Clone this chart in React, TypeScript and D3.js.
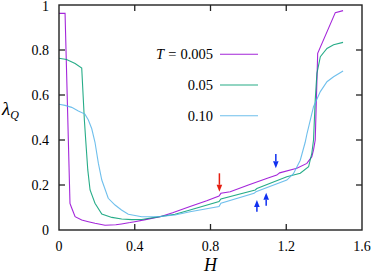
import { line, scaleLinear } from "d3";

const width = 374;
const height = 277;
const margin = { top: 5, right: 12, bottom: 47, left: 59 };
const innerWidth = width - margin.left - margin.right;
const innerHeight = height - margin.top - margin.bottom;

const xTicks = [0, 0.4, 0.8, 1.2, 1.6];
const yTicks = [0, 0.2, 0.4, 0.6, 0.8, 1];
const xTickLabels = ["0", "0.4", "0.8", "1.2", "1.6"];
const yTickLabels = ["0", "0.2", "0.4", "0.6", "0.8", "1"];

const legendLabels = ["0.005", "0.05", "0.10"];
const colors = ["#9400d3", "#009e73", "#56b4e9"];

// [H, lambda_Q]
const seriesT0005: [number, number][] = [
  [0, 0.963], [0.032, 0.963], [0.058, 0.118], [0.066, 0.1], [0.085, 0.059],
  [0.12, 0.044], [0.155, 0.037], [0.19, 0.03], [0.243, 0.021], [0.3, 0.023],
  [0.33, 0.027], [0.375, 0.033], [0.4, 0.037], [0.45, 0.045], [0.534, 0.059],
  [0.6, 0.077], [0.692, 0.104], [0.78, 0.13], [0.845, 0.151], [0.855, 0.163],
  [0.904, 0.17], [1.0, 0.2], [1.1, 0.23], [1.15, 0.244], [1.165, 0.254],
  [1.256, 0.274], [1.309, 0.296], [1.335, 0.326], [1.344, 0.356], [1.353, 0.4],
  [1.366, 0.785], [1.459, 0.966], [1.5, 0.975],
];

const seriesT005: [number, number][] = [
  [0, 0.763], [0.04, 0.758], [0.085, 0.74], [0.12, 0.72], [0.134, 0.489],
  [0.141, 0.4], [0.152, 0.267], [0.164, 0.178], [0.19, 0.119], [0.226, 0.071],
  [0.279, 0.056], [0.331, 0.049], [0.384, 0.046], [0.437, 0.047], [0.507, 0.056],
  [0.613, 0.07], [0.692, 0.089], [0.845, 0.126], [0.855, 0.138], [1.036, 0.178],
  [1.045, 0.184], [1.203, 0.237], [1.274, 0.252], [1.318, 0.281], [1.335, 0.341],
  [1.344, 0.4], [1.353, 0.578], [1.362, 0.696], [1.38, 0.77], [1.415, 0.807],
  [1.45, 0.823], [1.5, 0.834],
];

const seriesT010: [number, number][] = [
  [0, 0.559], [0.032, 0.554], [0.067, 0.545], [0.102, 0.529], [0.137, 0.515],
  [0.155, 0.489], [0.173, 0.45], [0.19, 0.39], [0.208, 0.296], [0.226, 0.222],
  [0.26, 0.141], [0.296, 0.111], [0.33, 0.089], [0.366, 0.07], [0.437, 0.059],
  [0.507, 0.059], [0.534, 0.06], [0.613, 0.067], [0.692, 0.081], [0.845, 0.104],
  [0.855, 0.119], [1.03, 0.163], [1.04, 0.17], [1.203, 0.222], [1.238, 0.25],
  [1.274, 0.31], [1.3, 0.39], [1.31, 0.43], [1.344, 0.548], [1.38, 0.615],
  [1.415, 0.659], [1.45, 0.681], [1.5, 0.707],
];

const series = [seriesT0005, seriesT005, seriesT010];

// arrows: H, lambda of tail, lambda of tip
const arrowH = [0.847, 1.145, 1.045, 1.094];
const arrowFrom = [0.252, 0.338, 0.081, 0.108];
const arrowTo = [0.17, 0.274, 0.133, 0.166];
const arrowColors = ["#e51e10", "#1030f0", "#1030f0", "#1030f0"];

const font = "'Liberation Serif', 'Times New Roman', serif";

export default function App() {
  const x = scaleLinear().domain([0, 1.6]).range([0, innerWidth]);
  const y = scaleLinear().domain([0, 1]).range([innerHeight, 0]);
  const path = line<[number, number]>()
    .x((d) => x(d[0]))
    .y((d) => y(d[1]));
  const tickLen = 6;
  const legendX1 = 220 - margin.left;
  const legendX2 = 258 - margin.left;
  const legendY = [54.3, 85, 115.7].map((v) => v - margin.top);

  return (
    <svg
      width={width}
      height={height}
      style={{ position: "absolute", left: 0, top: 0, background: "white", fontFamily: font }}
    >
      <g transform={`translate(${margin.left}, ${margin.top})`}>
        {series.map((s, i) => (
          <path
            key={i}
            d={path(s) ?? ""}
            fill="none"
            stroke={colors[i]}
            strokeWidth={1.1}
            opacity={0.85}
          />
        ))}

        {arrowH.map((h, i) => {
          const ax = x(h);
          const y0 = y(arrowFrom[i]);
          const y1 = y(arrowTo[i]);
          const dir = y1 > y0 ? 1 : -1;
          const headLen = 7;
          return (
            <g key={i}>
              <line
                x1={ax}
                x2={ax}
                y1={y0}
                y2={y1 - dir * headLen}
                stroke={arrowColors[i]}
                strokeWidth={1.5}
              />
              <path
                d={`M${ax},${y1} L${ax - 2.8},${y1 - dir * headLen} L${ax + 2.8},${y1 - dir * headLen} Z`}
                fill={arrowColors[i]}
              />
            </g>
          );
        })}

        {legendLabels.map((lab, i) => (
          <g key={lab}>
            <text
              x={213 - margin.left}
              y={legendY[i]}
              dy="0.35em"
              textAnchor="end"
              fontSize={14.5}
            >
              {i === 0 ? (
                <>
                  <tspan fontStyle="italic">T</tspan>
                  <tspan dx={4}>=</tspan>
                  <tspan dx={4}>{lab}</tspan>
                </>
              ) : (
                lab
              )}
            </text>
            <line
              x1={legendX1}
              x2={legendX2}
              y1={legendY[i]}
              y2={legendY[i]}
              stroke={colors[i]}
              strokeWidth={1.1}
              opacity={0.85}
            />
          </g>
        ))}

        <rect
          x={0}
          y={0}
          width={innerWidth}
          height={innerHeight}
          fill="none"
          stroke="#222"
          strokeWidth={1.4}
        />
        {xTicks.map((t, i) => (
          <g key={t}>
            {i > 0 && i < xTicks.length - 1 && (
              <>
                <line x1={x(t)} x2={x(t)} y1={innerHeight} y2={innerHeight - tickLen} stroke="#222" strokeWidth={1.3} />
                <line x1={x(t)} x2={x(t)} y1={0} y2={tickLen} stroke="#222" strokeWidth={1.3} />
              </>
            )}
            <text x={x(t)} y={innerHeight + 21} textAnchor="middle" fontSize={14}>
              {xTickLabels[i]}
            </text>
          </g>
        ))}
        {yTicks.map((t, i) => (
          <g key={t}>
            {i > 0 && i < yTicks.length - 1 && (
              <>
                <line x1={0} x2={tickLen} y1={y(t)} y2={y(t)} stroke="#222" strokeWidth={1.3} />
                <line x1={innerWidth} x2={innerWidth - tickLen} y1={y(t)} y2={y(t)} stroke="#222" strokeWidth={1.3} />
              </>
            )}
            <text
              x={-10}
              y={Math.max(y(t), 1.5)}
              dy="0.35em"
              textAnchor="end"
              fontSize={14}
            >
              {yTickLabels[i]}
            </text>
          </g>
        ))}

        <text
          x={innerWidth / 2}
          y={innerHeight + 41}
          textAnchor="middle"
          fontSize={18}
          fontStyle="italic"
        >
          H
        </text>
        <text x={-57} y={110} fontSize={19} fontStyle="italic">
          λ
          <tspan fontSize={12} dy={4}>
            Q
          </tspan>
        </text>
      </g>
    </svg>
  );
}
